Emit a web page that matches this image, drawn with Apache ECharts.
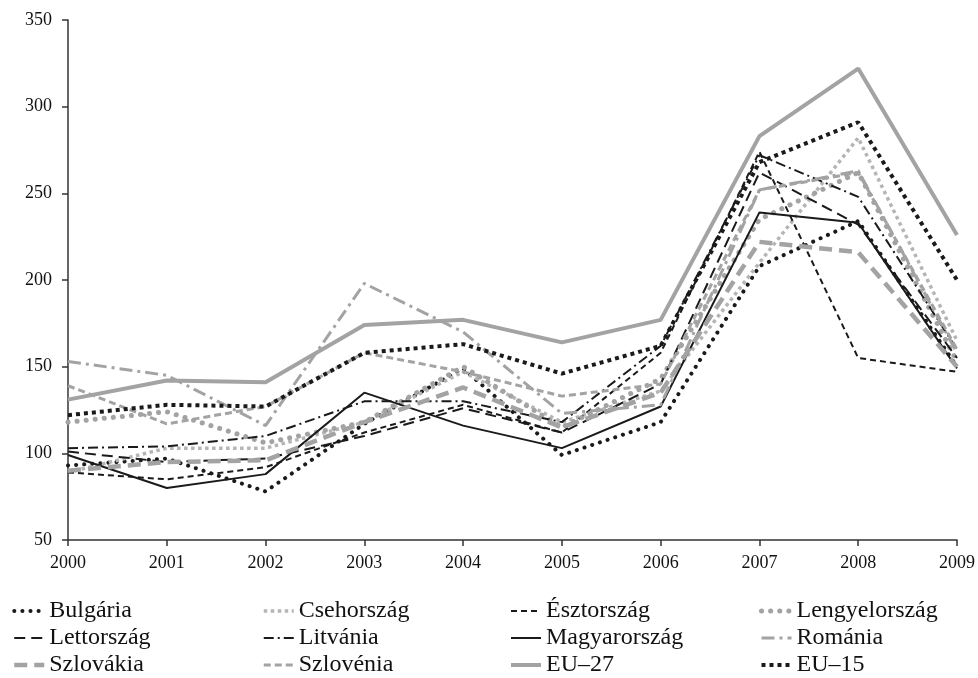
<!DOCTYPE html>
<html>
<head>
<meta charset="utf-8">
<script src="https://cdn.jsdelivr.net/npm/echarts@6/dist/echarts.min.js"></script>
<style>
  html, body { margin: 0; padding: 0; background: #fff; }
  #chart { width: 978px; height: 678px; }
</style>
</head>
<body>
<div id="chart"></div>
<script>
const years = ['2000', '2001', '2002', '2003', '2004', '2005', '2006', '2007', '2008', '2009']

const bulgaria = [93, 97, 78, 117, 149, 99, 118, 208, 234, 150]
const csehorszag = [89, 103, 103, 118, 147, 118, 136, 210, 282, 165]
const esztorszag = [89, 85, 92, 112, 128, 112, 158, 274, 155, 147]
const lengyelorszag = [118, 124, 106, 118, 150, 115, 143, 235, 262, 153]
const lettorszag = [101, 95, 97, 110, 126, 112, 140, 262, 232, 155]
const litvania = [103, 104, 110, 130, 130, 118, 162, 272, 248, 160]
const magyarorszag = [99, 80, 88, 135, 116, 103, 127, 239, 233, 149]
const romania = [153, 145, 116, 198, 170, 123, 128, 252, 263, 158]
const szlovakia = [90, 95, 96, 118, 138, 115, 135, 222, 216, 150]
const szlovenia = [139, 117, 127, 158, 147, 133, 140, 252, 262, 160]
const eu27 = [131, 142, 141, 174, 177, 164, 177, 283, 322, 226]
const eu15 = [122, 128, 127, 158, 163, 146, 162, 268, 291, 200]

const yTicks = { min: 50, max: 350, interval: 50 }

const BLACK = '#1a1a1a'
const GRAY = '#a3a3a3'
const LIGHT = '#b5b5b5'

const chart = echarts.init(document.getElementById('chart'))

const styles = {}
const mk = (name, data, color, width, type, cap) => {
  const lineStyle = { color: color, width: width, type: type, cap: cap || 'butt' }
  styles[name] = lineStyle
  return {
    name: name,
    type: 'line',
    data: data,
    symbol: 'none',
    animation: false,
    lineStyle: lineStyle,
    itemStyle: { color: color }
  }
}

const series = [
  mk('Bulgária', bulgaria, BLACK, 4, [0.1, 8], 'round'),
  mk('Csehország', csehorszag, LIGHT, 3.5, [3.5, 3.5]),
  mk('Észtország', esztorszag, BLACK, 2, [6, 4]),
  mk('Lengyelország', lengyelorszag, GRAY, 5, [0.1, 9], 'round'),
  mk('Lettország', lettorszag, BLACK, 2, [11, 6]),
  mk('Litvánia', litvania, BLACK, 2, [10, 4, 2, 4]),
  mk('Magyarország', magyarorszag, BLACK, 2, 'solid'),
  mk('Románia', romania, GRAY, 3, [13, 5, 3, 5]),
  mk('Szlovákia', szlovakia, GRAY, 4.5, [13, 7]),
  mk('Szlovénia', szlovenia, GRAY, 3, [7, 4]),
  mk('EU–27', eu27, GRAY, 4, 'solid'),
  mk('EU–15', eu15, BLACK, 4, [4, 4])
]

const fontFamily = '"Liberation Serif", "DejaVu Serif", serif'

const legendCol = (left, names) => ({
  show: true,
  orient: 'vertical',
  left: left,
  top: 594,
  height: 120,
  itemWidth: 30,
  itemHeight: 14,
  itemGap: 3,
  data: names.map(n => ({ name: n, lineStyle: Object.assign({}, styles[n]) })),
  itemStyle: { opacity: 0 },
  textStyle: { fontFamily: fontFamily, fontSize: 24, color: '#111' }
})

const option = {
  backgroundColor: '#fff',
  animation: false,
  textStyle: { fontFamily: fontFamily },
  grid: { left: 68, right: 20, top: 20, bottom: 138 },
  legend: [
    legendCol(7, ['Bulgária', 'Lettország', 'Szlovákia']),
    legendCol(257, ['Csehország', 'Litvánia', 'Szlovénia']),
    legendCol(504, ['Észtország', 'Magyarország', 'EU–27']),
    legendCol(754, ['Lengyelország', 'Románia', 'EU–15'])
  ],
  xAxis: {
    type: 'category',
    data: years,
    boundaryGap: false,
    axisLine: { lineStyle: { color: '#333', width: 1.5 } },
    axisTick: { inside: false, length: 6, lineStyle: { color: '#333', width: 1.5 } },
    axisLabel: { color: '#111', fontSize: 18, margin: 14, fontFamily: fontFamily },
    splitLine: { show: false }
  },
  yAxis: {
    type: 'value',
    min: yTicks.min,
    max: yTicks.max,
    interval: yTicks.interval,
    axisLine: { show: true, lineStyle: { color: '#333', width: 1.5 } },
    axisTick: { show: true, length: 6, lineStyle: { color: '#333', width: 1.5 } },
    axisLabel: { color: '#111', fontSize: 18, margin: 16, fontFamily: fontFamily },
    splitLine: { show: false }
  },
  series: series
}

chart.setOption(option)
</script>
</body>
</html>
